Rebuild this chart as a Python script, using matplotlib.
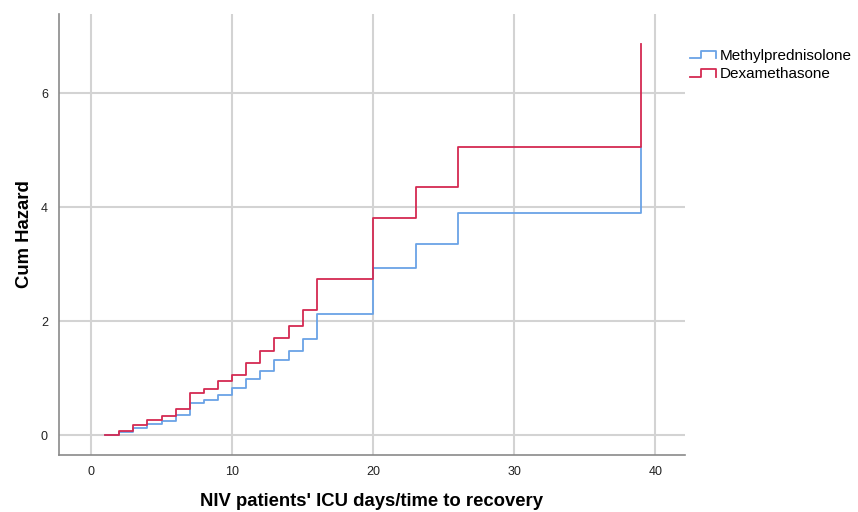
import numpy as np
import matplotlib.pyplot as plt
from matplotlib.lines import Line2D
from matplotlib.legend_handler import HandlerLine2D

# --- podaci (procijenjeno sa slike) ---
days = [1, 2, 3, 4, 5, 6, 7, 8, 9, 10, 11, 12, 13, 14, 15, 16, 20, 23, 26, 39]
methyl = [0.01, 0.05, 0.13, 0.20, 0.25, 0.36, 0.57, 0.61, 0.71, 0.82,
          0.98, 1.13, 1.31, 1.47, 1.68, 2.12, 2.93, 3.35, 3.89, 5.06]
dexa = [0.01, 0.07, 0.175, 0.26, 0.34, 0.46, 0.74, 0.81, 0.95, 1.06,
        1.27, 1.47, 1.71, 1.92, 2.19, 2.74, 3.81, 4.35, 5.06, 6.87]
labels = ["Methylprednisolone", "Dexamethasone"]
xticks = [0, 10, 20, 30, 40]
yticks = [0, 2, 4, 6]

blue = "#6aa3e6"
red = "#d42a52"
grid_c = "#d3d3d3"

plt.rcParams['font.family'] = ["Liberation Sans", "DejaVu Sans"]


class StepHandler(HandlerLine2D):
    # mala "stepenica" kao u SPSS legendi
    def create_artists(self, legend, orig_handle, xdescent, ydescent,
                       width, height, fontsize, trans):
        x0, x1 = -xdescent, -xdescent + width
        ym = height * 0.15 - ydescent
        yt = height * 0.85 - ydescent
        xs = [x0, x0 + width * 0.45, x0 + width * 0.45, x1, x1]
        ys = [ym, ym, yt, yt, ym]
        ln = Line2D(xs, ys, color=orig_handle.get_color(), lw=1.3)
        ln.set_transform(trans)
        return [ln]


fig = plt.figure(figsize=(8.58, 5.12), dpi=100)
ax = fig.add_axes([0.0688, 0.1113, 0.7295, 0.8614])

ax.set_xlim(-2.27, 42.1)
ax.set_ylim(-0.35, 7.39)
for v in xticks:
    ax.axvline(v, color=grid_c, lw=1.5, zorder=0)
for v in yticks:
    ax.axhline(v, color=grid_c, lw=1.5, zorder=0)

h1, = ax.step(days, methyl, where='post', color=blue, lw=1.3, label=labels[0])
h2, = ax.step(days, dexa, where='post', color=red, lw=1.3, label=labels[1])

ax.set_xticks(xticks)
ax.set_yticks(yticks)
ax.tick_params(length=0, labelsize=9, colors="#222222", pad=8)
for s in ["top", "right"]:
    ax.spines[s].set_visible(False)
for s in ["left", "bottom"]:
    ax.spines[s].set_color("#8a8a8a")
    ax.spines[s].set_linewidth(1.2)

ax.set_xlabel("NIV patients' ICU days/time to recovery", fontsize=13.3,
              fontweight='bold', labelpad=11)
ax.set_ylabel("Cum Hazard", fontsize=13.3, fontweight='bold', labelpad=6)

leg = ax.legend(handles=[h1, h2], loc='upper left', bbox_to_anchor=(0.998, 0.935),
                frameon=False, fontsize=11, handlelength=1.7, handletextpad=0.25,
                labelspacing=0.3, borderaxespad=0,
                handler_map={Line2D: StepHandler()})

fig.savefig("out.png", dpi=100)
